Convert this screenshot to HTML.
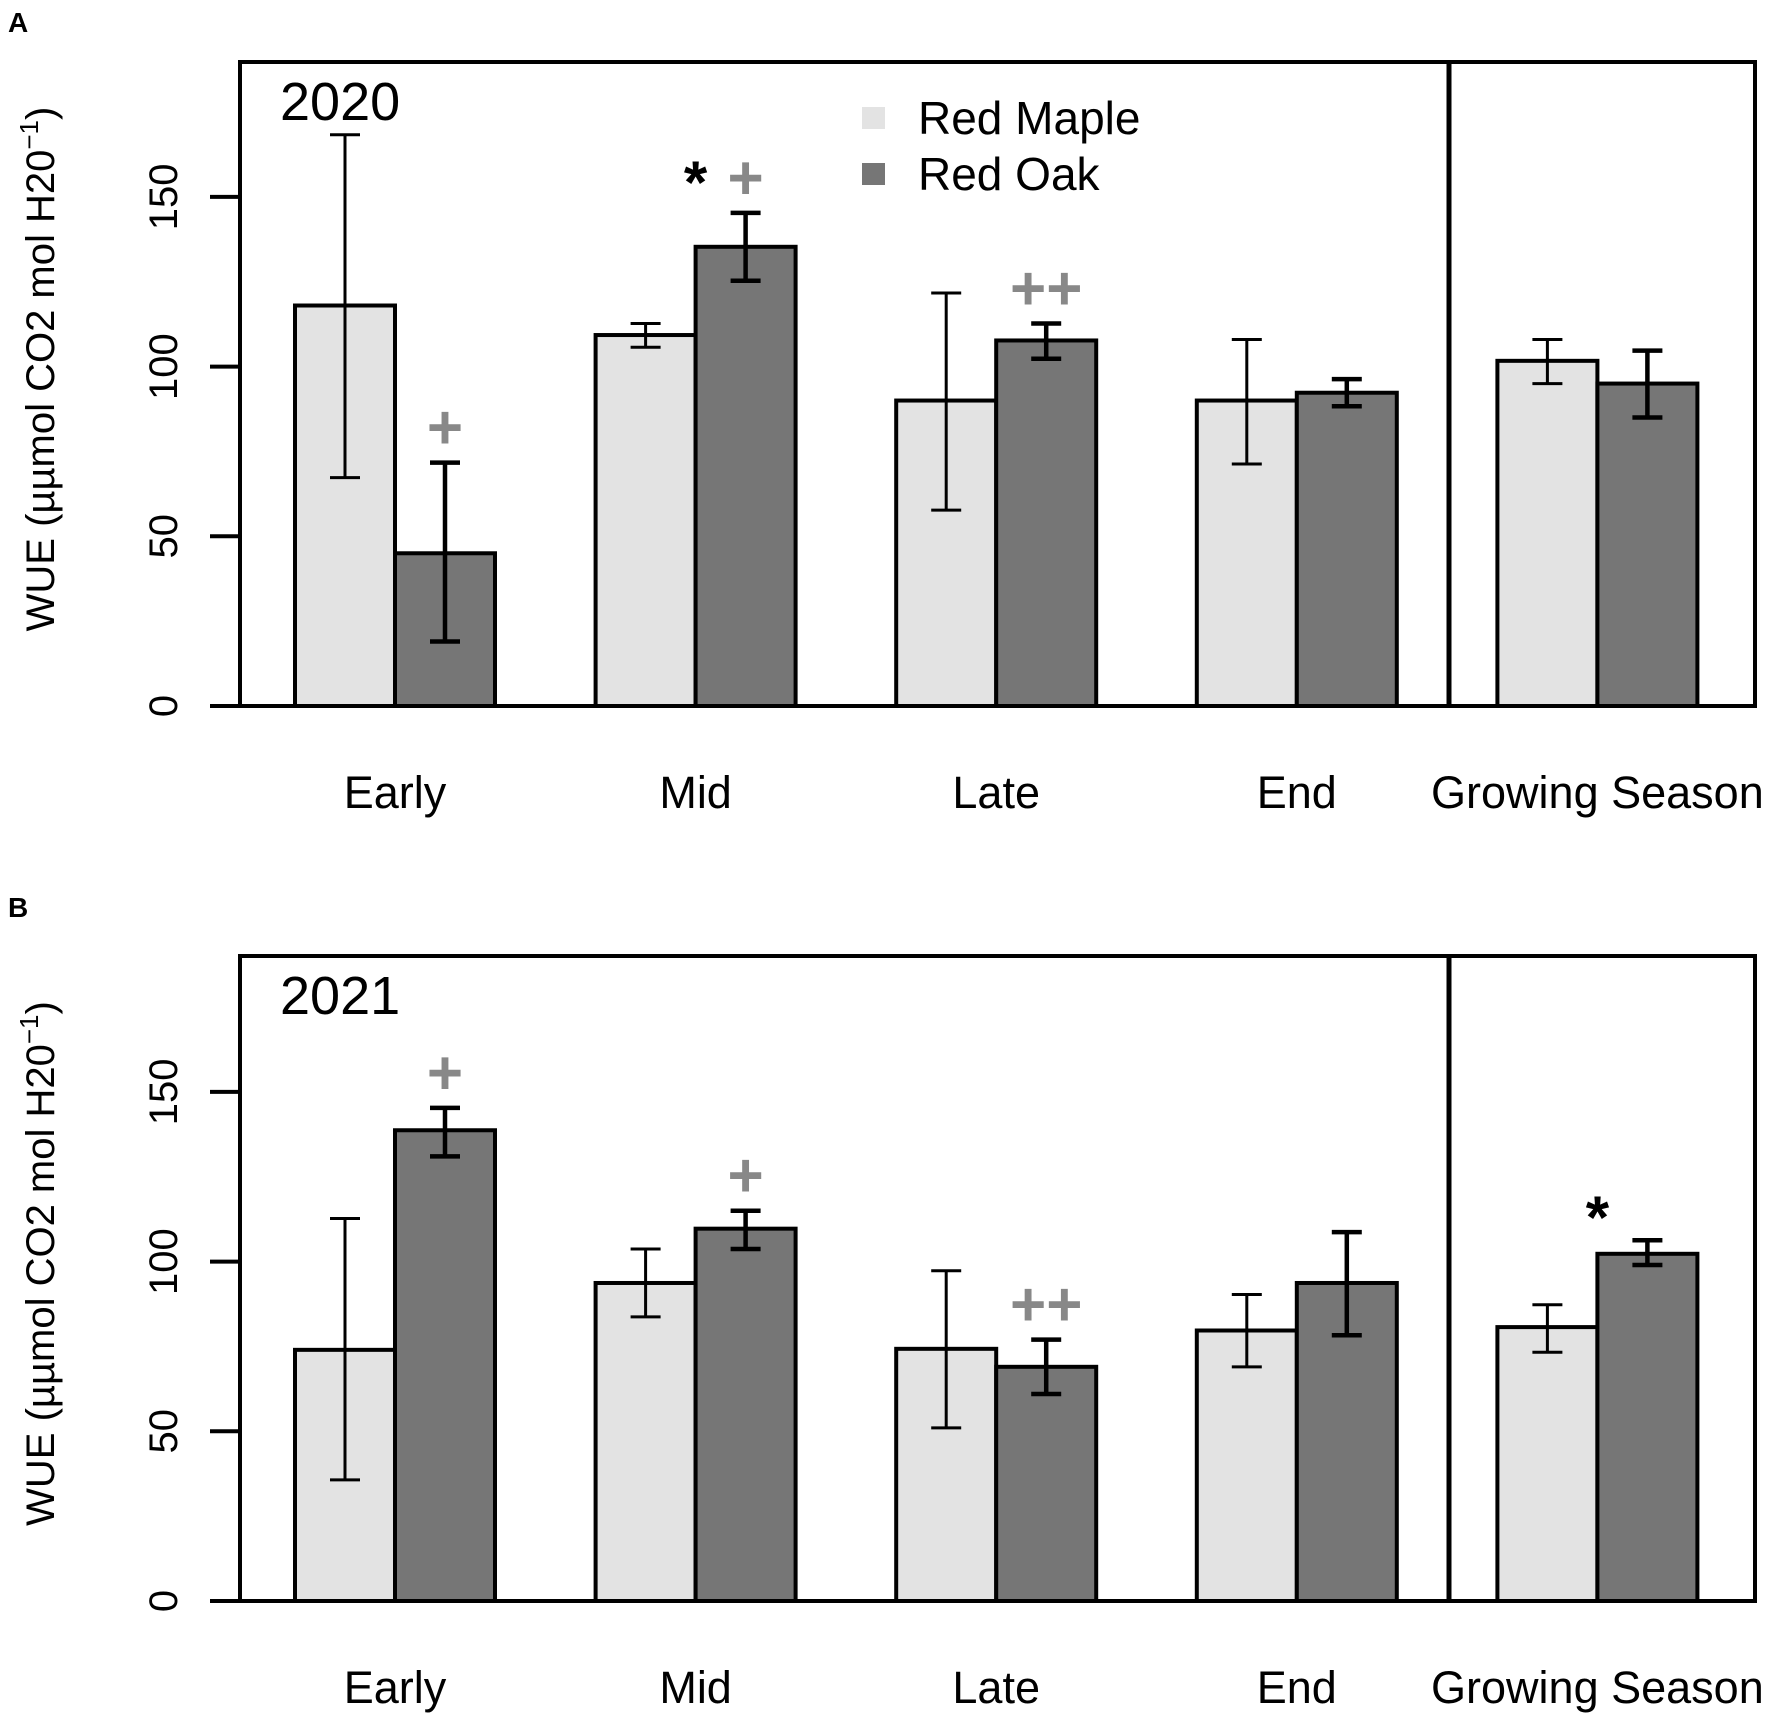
<!DOCTYPE html>
<html><head><meta charset="utf-8"><style>
html,body{margin:0;padding:0;background:#fff;}
svg text{font-family:"Liberation Sans",sans-serif;}
</style></head><body>
<svg id="chart" xmlns="http://www.w3.org/2000/svg" width="1772" height="1717" viewBox="0 0 1772 1717">
<rect x="0" y="0" width="1772" height="1717" fill="#fff"/>
</svg>
<script>
const categories = ["Early","Mid","Late","End","Growing Season"];
const maple2020 = [118,109.3,90,90,101.7];
const mapleLo2020 = [67.3,105.7,57.7,71.3,95];
const mapleHi2020 = [168.3,112.7,121.7,108,108];
const oak2020 = [45,135.3,107.7,92.3,95];
const oakLo2020 = [19,125.3,102.3,88.3,85];
const oakHi2020 = [71.7,145.3,112.7,96.3,104.7];
const maple2021 = [74,93.7,74.3,79.7,80.7];
const mapleLo2021 = [35.7,83.7,51,69,73.3];
const mapleHi2021 = [112.7,103.7,97.3,90.3,87.3];
const oak2021 = [138.7,109.7,69,93.7,102.3];
const oakLo2021 = [131,103.7,61,78.3,99];
const oakHi2021 = [145.3,115,77,108.7,106.3];
const yTicks = [0,50,100,150];
const annot2020 = [["","+"],["*","+"],["","++"],["",""],["",""]];
const annot2021 = [["","+"],["","+"],["","++"],["",""],["*",""]];

const NS="http://www.w3.org/2000/svg";
const svg=document.getElementById('chart');
function el(tag,attrs,parent,text){const e=document.createElementNS(NS,tag);for(const k in attrs)e.setAttribute(k,attrs[k]);if(text!==undefined)e.textContent=text;(parent||svg).appendChild(e);return e;}
const X0=395, DX=300.6, BW=100, PX=3.394;
function xc(i){return X0+i*DX;}

function panel(p){
  const g=el('g',{});
  
  
  const yv=v=>p.zero-v*PX;
  let t=el('text',{x:8,y:p.letterY,'font-size':28,'font-weight':'bold'},g,p.letter);
  
  
  for(let i=0;i<categories.length;i++){
    const series=[[p.maple,p.mapleLo,p.mapleHi,'#e3e3e3',xc(i)-BW],[p.oak,p.oakLo,p.oakHi,'#767676',xc(i)]];
    series.forEach((s,k)=>{
      const r=el('rect',{x:s[4],y:yv(s[0][i]),width:BW,height:s[0][i]*PX,fill:s[3],stroke:'#000','stroke-width':4},g);
      
      
      const cx=s[4]+BW/2, lo=yv(s[1][i]), hi=yv(s[2][i]);
      const e=el('path',{d:`M${cx},${lo}V${hi}M${cx-15},${lo}H${cx+15}M${cx-15},${hi}H${cx+15}`,stroke:'#000','stroke-width':k?4.5:3,fill:'none'},g);
      
      
    });
    const a=p.annot[i];
    const topOak=yv(p.oakHi[i]);
    if(a[1]){
      const at=el('text',{x:xc(i)+BW/2,y:topOak-14,'font-size':62,'text-anchor':'middle',fill:'#888','font-weight':'bold'},g,a[1]);
      
      
    }
    if(a[0]){
      const at=el('text',{x:xc(i),y:topOak-(a[1]?10:2),'font-size':60,'text-anchor':'middle','font-weight':'bold'},g,a[0]);
      
      
    }
    const cl=el('text',{x:xc(i),y:p.zero+102,'font-size':45,'text-anchor':'middle'},g,categories[i]);
    
    
  }
  const f=el('rect',{x:240,y:p.top,width:1515,height:p.zero-p.top,fill:'none',stroke:'#000','stroke-width':4},g);
  
  
  const d=el('line',{x1:1449,x2:1449,y1:p.top,y2:p.zero,stroke:'#000','stroke-width':5},g);
  
  
  const bl=el('line',{x1:210,x2:1755,y1:p.zero,y2:p.zero,stroke:'#000','stroke-width':4},g);
  
  
  yTicks.forEach(v=>{
    const tk=el('line',{x1:210,x2:240,y1:yv(v),y2:yv(v),stroke:'#000','stroke-width':4},g);
    
    
    const tl=el('text',{x:0,y:0,'font-size':40,'text-anchor':'middle',transform:`translate(177,${yv(v)}) rotate(-90)`},g,String(v));
    
    
  });
  const yr=el('text',{x:280,y:p.top+58,'font-size':54},g,p.year);
  
  
  const yt=el('text',{x:0,y:0,'font-size':40,'text-anchor':'middle',transform:`translate(54,${(p.top+p.zero)/2-15}) rotate(-90)`},g);
  
  
  el('tspan',{},yt,'WUE (\u00b5\u00b5mol CO2 mol H20');
  el('tspan',{dy:-16,'font-size':26},yt,'\u22121');
  el('tspan',{dy:16},yt,')');
}
panel({letter:'A',letterY:32,top:62,zero:706,year:'2020',maple:maple2020,mapleLo:mapleLo2020,mapleHi:mapleHi2020,oak:oak2020,oakLo:oakLo2020,oakHi:oakHi2020,annot:annot2020});
panel({letter:'B',letterY:917,top:956,zero:1601,year:'2021',maple:maple2021,mapleLo:mapleLo2021,mapleHi:mapleHi2021,oak:oak2021,oakLo:oakLo2021,oakHi:oakHi2021,annot:annot2021});
const lg=el('g',{});


[['Red Maple','#e3e3e3',107,134],['Red Oak','#767676',163,190]].forEach(l=>{
  const s=el('rect',{x:862,y:l[2],width:23,height:22,fill:l[1]},lg);
  
  
  const t=el('text',{x:918,y:l[3],'font-size':46},lg,l[0]);
  
  
});
</script>
</body></html>
